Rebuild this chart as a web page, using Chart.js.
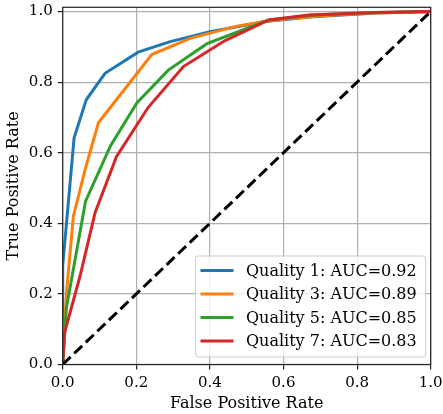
<!DOCTYPE html>
<html>
<head>
<meta charset="utf-8">
<script src="https://cdn.jsdelivr.net/npm/chart.js@4"></script>
<style>
  html, body { margin: 0; padding: 0; background: #fff; }
  #wrap { width: 443px; height: 414px; }
</style>
</head>
<body>
<div id="wrap"><canvas id="roc"></canvas></div>
<script>
// ROC curve data (false positive rate / true positive rate)
const q1Fpr = [0, 0, 0.031, 0.064, 0.115, 0.205, 0.29, 0.4, 0.55, 0.68, 0.85, 1];
const q1Tpr = [0, 0.28, 0.642, 0.75, 0.825, 0.885, 0.914, 0.943, 0.972, 0.985, 0.996, 1];
const q3Fpr = [0, 0.01, 0.029, 0.061, 0.097, 0.242, 0.346, 0.47, 0.56, 0.7, 0.85, 1];
const q3Tpr = [0, 0.2, 0.42, 0.553, 0.685, 0.878, 0.924, 0.958, 0.974, 0.988, 0.996, 1];
const q5Fpr = [0, 0.01, 0.062, 0.13, 0.202, 0.287, 0.392, 0.56, 0.68, 0.85, 1];
const q5Tpr = [0, 0.16, 0.462, 0.62, 0.742, 0.834, 0.909, 0.976, 0.99, 0.997, 1];
const q7Fpr = [0, 0.005, 0.047, 0.088, 0.146, 0.232, 0.328, 0.44, 0.56, 0.67, 0.85, 1];
const q7Tpr = [0, 0.09, 0.25, 0.43, 0.589, 0.728, 0.844, 0.917, 0.976, 0.99, 0.997, 1];
const chanceFpr = [0, 1];
const chanceTpr = [0, 1];

const seriesLabels = ['Quality 1: AUC=0.92', 'Quality 3: AUC=0.89', 'Quality 5: AUC=0.85', 'Quality 7: AUC=0.83'];
const xTicks = [0, 0.2, 0.4, 0.6, 0.8, 1.0];
const yTicks = [0, 0.2, 0.4, 0.6, 0.8, 1.0];

const colors = ['#1f77b4', '#ff7f0e', '#2ca02c', '#d62728'];
const serif = '"DejaVu Serif", serif';

function pts(xs, ys) {
    return xs.map((x, i) => ({ x: x, y: ys[i] }));
}

const curves = [pts(q1Fpr, q1Tpr), pts(q3Fpr, q3Tpr), pts(q5Fpr, q5Tpr), pts(q7Fpr, q7Tpr)];

const datasets = curves.map((d, i) => ({
    label: seriesLabels[i],
    data: d,
    borderColor: colors[i],
    borderWidth: 3,
    pointRadius: 0,
    tension: 0,
    fill: false,
    order: 4 - i
}));
datasets.push({
    label: '',
    data: pts(chanceFpr, chanceTpr),
    borderColor: '#000',
    borderWidth: 3,
    borderDash: [11, 5],
    pointRadius: 0,
    fill: false,
    order: 0
});

// frame on all four sides + legend inside the plot
const framePlugin = {
    id: 'frame',
    afterDraw(chart) {
        const { ctx, chartArea: a } = chart;
        ctx.save();
        ctx.strokeStyle = '#222';
        ctx.lineWidth = 1.2;
        ctx.strokeRect(a.left, a.top, a.right - a.left, a.bottom - a.top);

        // legend
        ctx.font = '16px ' + serif;
        const items = chart.data.datasets.filter(d => d.label);
        const textW = Math.max(...items.map(d => ctx.measureText(d.label).width));
        const rowH = 23.5;
        const w = 5 + 33 + 12.5 + textW + 9;
        const h = 10 + rowH * items.length - 3;
        const x0 = a.right - 5 - w;
        const y0 = a.bottom - 7.5 - h;
        ctx.beginPath();
        ctx.roundRect(x0, y0, w, h, 3);
        ctx.fillStyle = 'rgba(255,255,255,0.8)';
        ctx.fill();
        ctx.strokeStyle = '#cccccc';
        ctx.lineWidth = 1;
        ctx.stroke();
        ctx.textBaseline = 'middle';
        items.forEach((d, i) => {
            const cy = y0 + 14.5 + i * rowH;
            ctx.beginPath();
            ctx.moveTo(x0 + 5, cy);
            ctx.lineTo(x0 + 38, cy);
            ctx.strokeStyle = d.borderColor;
            ctx.lineWidth = 3;
            ctx.stroke();
            ctx.fillStyle = '#000';
            ctx.fillText(d.label, x0 + 50.5, cy + 1);
        });
        ctx.restore();
    }
};

const ctx = document.getElementById('roc').getContext('2d');
new Chart(ctx, {
    type: 'line',
    data: { datasets: datasets },
    options: {
        responsive: true,
        maintainAspectRatio: false,
        animation: false,
        layout: { padding: { left: 0, right: 12.3, top: 7.3, bottom: 0 } },
        plugins: { legend: { display: false }, tooltip: { enabled: false } },
        scales: {
            x: {
                type: 'linear',
                min: 0, max: 1,
                afterBuildTicks: s => { s.ticks = xTicks.map(v => ({ value: v })); },
                afterFit: s => { s.height = 49.5; s.paddingLeft = 0; s.paddingRight = 0; },
                ticks: {
                    color: '#000', padding: 5, maxRotation: 0,
                    font: { family: serif, size: 15 },
                    callback: v => v.toFixed(1)
                },
                grid: { color: '#b0b0b0', lineWidth: 1.2, tickColor: '#222', tickLength: 5, tickWidth: 1.2 },
                border: { display: false },
                title: { display: true, text: 'False Positive Rate', color: '#000',
                         font: { family: serif, size: 16 }, padding: { bottom: 1 } }
            },
            y: {
                type: 'linear',
                min: 0, max: 1.012,
                afterBuildTicks: s => { s.ticks = yTicks.map(v => ({ value: v })); },
                afterFit: s => { s.width = 62.7; s.paddingTop = 0; s.paddingBottom = 0; },
                ticks: {
                    color: '#000', padding: 5,
                    font: { family: serif, size: 15 },
                    callback: v => v.toFixed(1)
                },
                grid: { color: '#b0b0b0', lineWidth: 1.2, tickColor: '#222', tickLength: 5, tickWidth: 1.2 },
                border: { display: false },
                title: { display: true, text: 'True Positive Rate', color: '#000',
                         font: { family: serif, size: 16 }, padding: { top: 4 } }
            }
        }
    },
    plugins: [framePlugin]
});
</script>
</body>
</html>
